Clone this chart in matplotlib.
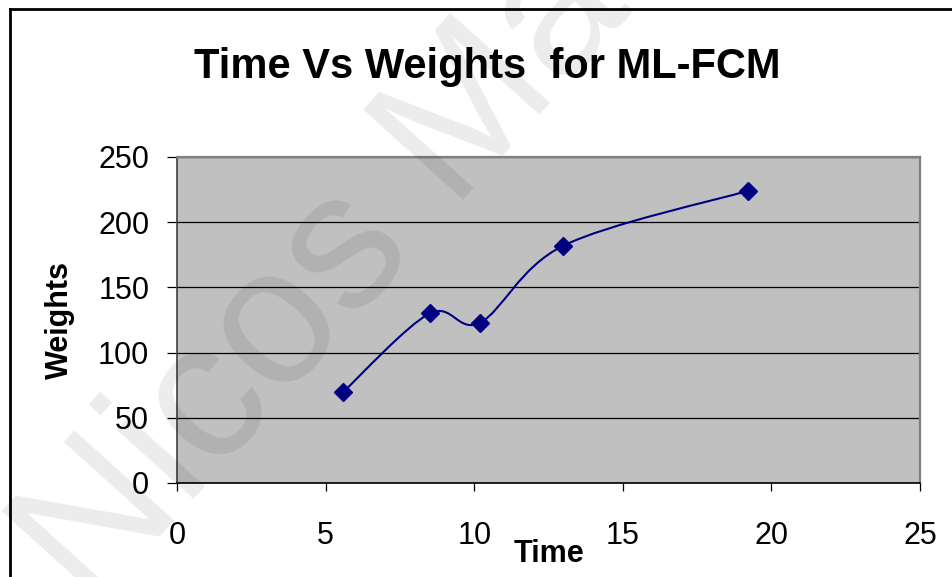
# Time vs weights for ML-FCM, Excel style scatter with smoothed line
import numpy as np
import matplotlib
matplotlib.use('Agg')
import matplotlib.pyplot as plt
from matplotlib.path import Path
from matplotlib.patches import PathPatch
from matplotlib.lines import Line2D

#----------------
# data
#----------------
time = [5.6, 8.5, 10.2, 13.0, 19.2]
weights = [70, 130, 123, 182, 224]

xticks = [0, 5, 10, 15, 20, 25]
yticks = [0, 50, 100, 150, 200, 250]

plt.rcParams['font.family'] = ['Liberation Sans', 'DejaVu Sans']

W, H = 952, 577
fig = plt.figure(figsize=(W / 100, H / 100), dpi=100)
fig.patch.set_facecolor('white')

ax = fig.add_axes([177 / W, (H - 483) / H, 743 / W, 326 / H])
ax.set_facecolor('#c0c0c0')
ax.set_xlim(0, 25)
ax.set_ylim(0, 250)
ax.set_xticks(xticks)
ax.set_yticks(yticks)
ax.yaxis.grid(True, color='black', linewidth=0.9)
ax.set_axisbelow(True)

for s in ['top', 'right']:
    ax.spines[s].set_color('#808080')
    ax.spines[s].set_linewidth(1.6)
ax.spines['left'].set_color('#404040')
ax.spines['left'].set_linewidth(1.2)
ax.spines['bottom'].set_color('black')
ax.spines['bottom'].set_linewidth(1.2)

ax.tick_params(axis='y', direction='out', length=7, width=0.9, pad=13, labelsize=22)
ax.tick_params(axis='x', direction='out', length=6, width=0.9, pad=21, labelsize=22)

# smoothed connecting line (cubic bezier through the points, catmull-rom style)
pts = np.column_stack([time, weights]).astype(float)
ext = np.vstack([pts[0], pts, pts[-1]])
verts = [tuple(pts[0])]
codes = [Path.MOVETO]
for i in range(len(pts) - 1):
    p0, p1, p2, p3 = ext[i], ext[i + 1], ext[i + 2], ext[i + 3]
    c1 = p1 + (p2 - p0) / 6.0
    c2 = p2 - (p3 - p1) / 6.0
    verts += [tuple(c1), tuple(c2), tuple(p2)]
    codes += [Path.CURVE4] * 3
ax.add_patch(PathPatch(Path(verts, codes), fill=False, edgecolor='#000080',
                       linewidth=1.5, zorder=3))
ax.plot(time, weights, linestyle='none', marker='D', markersize=9.5,
        color='#000080', zorder=4)

ax.set_xlabel('Time', fontsize=22, fontweight='bold', va='top')
ax.xaxis.set_label_coords(0.5, -0.172)
ax.set_ylabel('Weights', fontsize=22, fontweight='bold')
ax.yaxis.set_label_coords(-0.137, 0.5)

fig.text(487 / W, 1 - 78 / H, 'Time Vs Weights  for ML-FCM', fontsize=30,
         fontweight='bold', ha='center', va='baseline')

# chart border
fig.add_artist(Line2D([10 / W, 1.0], [1 - 8.5 / H, 1 - 8.5 / H],
                      transform=fig.transFigure, color='black', linewidth=2))
fig.add_artist(Line2D([10 / W, 10 / W], [0.0, 1 - 8.5 / H],
                      transform=fig.transFigure, color='black', linewidth=2))

# watermark
fig.text(325 / W, 1 - 278 / H, 'Nicos Ma', fontsize=140, color='black',
         alpha=0.08, rotation=48, ha='center', va='center', zorder=10)

fig.savefig('out.png', dpi=100)
